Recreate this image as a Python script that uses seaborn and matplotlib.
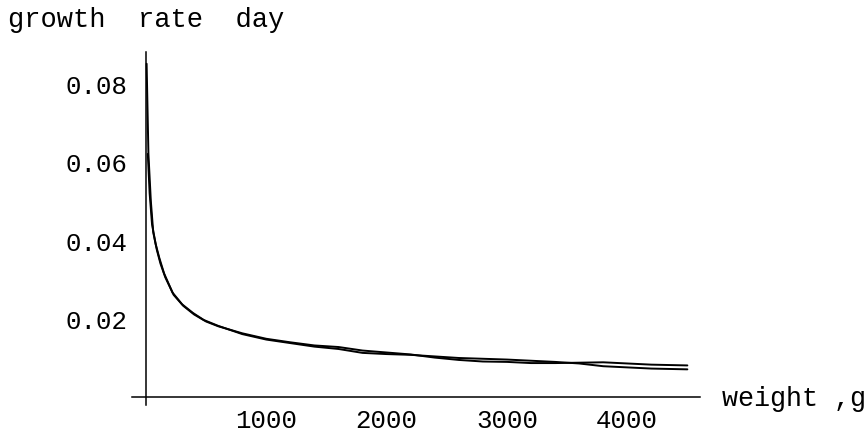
import numpy as np
import pandas as pd
import matplotlib
matplotlib.use("Agg")
import matplotlib.pyplot as plt
from matplotlib.ticker import MultipleLocator, FixedLocator, FuncFormatter
import seaborn as sns

# Specific growth rate per day against body weight (g), two fitted series
weight_a = [5, 20, 40, 60, 90, 120, 160, 230, 310, 400, 500, 600, 800, 1000,
            1200, 1400, 1600, 1800, 2000, 2200, 2400, 2600, 2800, 3000, 3200,
            3400, 3600, 3800, 4000, 4200, 4500]
rate_a = [0.085, 0.062, 0.050, 0.042, 0.0375, 0.034, 0.0305, 0.026, 0.0232,
          0.0210, 0.0192, 0.0180, 0.0162, 0.0148, 0.0139, 0.0131, 0.0127,
          0.0118, 0.0113, 0.0108, 0.0100, 0.0094, 0.0090, 0.0089, 0.0086,
          0.0086, 0.0087, 0.0088, 0.0085, 0.0082, 0.0080]

weight_b = [15, 30, 50, 80, 110, 150, 220, 300, 390, 480, 600, 800, 1000,
            1200, 1400, 1600, 1800, 2000, 2200, 2400, 2600, 2800, 3000, 3200,
            3400, 3600, 3800, 4000, 4200, 4500]
rate_b = [0.062, 0.052, 0.044, 0.039, 0.0355, 0.0315, 0.0266, 0.0236, 0.0214,
          0.0196, 0.0181, 0.0160, 0.0146, 0.0137, 0.0128, 0.0122, 0.0112,
          0.0109, 0.0107, 0.0103, 0.0099, 0.0097, 0.0095, 0.0092, 0.0089,
          0.0085, 0.0078, 0.0075, 0.0072, 0.0070]

x_ticks = [1000, 2000, 3000, 4000]
y_ticks = [0.02, 0.04, 0.06, 0.08]

sns.set_style("white")
plt.rcParams["font.family"] = ["Liberation Mono", "DejaVu Sans Mono"]
FS = 18.5

W, H = 868, 435
fig = plt.figure(figsize=(W / 100, H / 100), dpi=100)
left, right, top, bottom = 131.7, 700.0, 53.0, 406.0
ax = fig.add_axes([left / W, 1 - bottom / H, (right - left) / W, (bottom - top) / H])

df_a = pd.DataFrame({"weight": weight_a, "rate": rate_a})
df_b = pd.DataFrame({"weight": weight_b, "rate": rate_b})
sns.lineplot(data=df_a, x="weight", y="rate", ax=ax, color="black", lw=1.4)
sns.lineplot(data=df_b, x="weight", y="rate", ax=ax, color="black", lw=1.4)

ax.set_xlim(-119, 4605)
ax.set_ylim(-0.0021, 0.0880)
ax.set_xlabel("")
ax.set_ylabel("")

# Axes crossing at the origin
for side in ("right", "top"):
    ax.spines[side].set_visible(False)
ax.spines["left"].set_position(("data", 0))
ax.spines["bottom"].set_position(("data", 0))
for side in ("left", "bottom"):
    ax.spines[side].set_linewidth(1.1)
    ax.spines[side].set_color("black")

ax.xaxis.set_major_locator(FixedLocator(x_ticks))
ax.xaxis.set_minor_locator(MultipleLocator(200))
ax.yaxis.set_major_locator(FixedLocator(y_ticks))
ax.yaxis.set_minor_locator(MultipleLocator(0.005))
ax.yaxis.set_major_formatter(FuncFormatter(lambda v, p: f"{v:.2f}"))
ax.xaxis.set_major_formatter(FuncFormatter(lambda v, p: f"{v:.0f}"))

ax.tick_params(which="both", direction="in", color="black", width=0.8)
ax.tick_params(which="major", length=4)
ax.tick_params(which="minor", length=2.2)
ax.tick_params(axis="y", which="major", pad=13, labelsize=FS, labelcolor="black")
ax.tick_params(axis="x", which="major", pad=8, labelsize=FS, labelcolor="black")

fig.text(8 / W, 1 - 27 / H, "growth  rate  day", fontsize=19.5, va="baseline",
         ha="left", color="black")
fig.text(722 / W, 1 - 406 / H, "weight ,g", fontsize=19.3, va="baseline",
         ha="left", color="black")

fig.savefig("out.png", dpi=100)
